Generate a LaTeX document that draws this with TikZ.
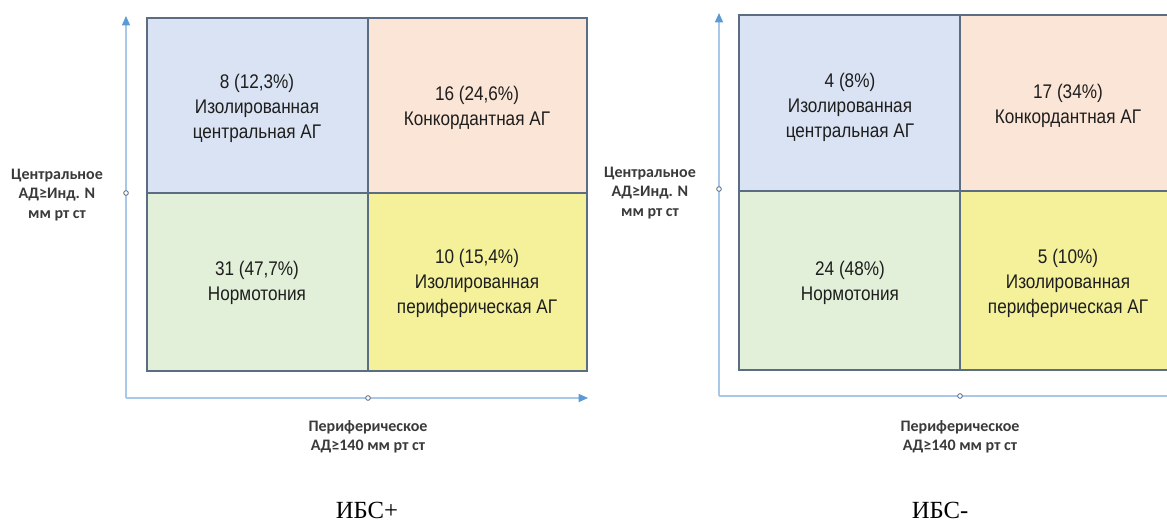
\documentclass[tikz,border=0pt]{standalone}
\usepackage{fontspec}
\setmainfont{Liberation Serif}
\newfontfamily\cellfont[FakeStretch=0.87]{Liberation Sans}
\newfontfamily\axfont{Carlito}
\usetikzlibrary{arrows.meta}
\definecolor{cblue}{HTML}{DAE3F3}
\definecolor{cpeach}{HTML}{FBE5D6}
\definecolor{cgreen}{HTML}{E2F0D9}
\definecolor{cyellow}{HTML}{F4F19A}
\definecolor{gridc}{HTML}{5A6D82}
\definecolor{axisc}{HTML}{A9C8E8}
\definecolor{arrowc}{HTML}{5B9BD5}
\definecolor{txtc}{HTML}{1E1E1E}
\definecolor{axtxt}{HTML}{3A3A3A}
\begin{document}
\begin{tikzpicture}[x=0.75pt,y=-0.75pt,
  cellbox/.style={draw=gridc,line width=1.1pt},
  celltext/.style={align=center,text=txtc,inner sep=0pt,font=\cellfont\fontsize{14.8}{18.8}\selectfont},
  axlabel/.style={align=center,text=axtxt,inner sep=0pt,font=\axfont\bfseries\fontsize{12}{14.5}\selectfont},
  caption/.style={inner sep=0pt,font=\fontsize{18.5}{22}\selectfont},
  axisline/.style={draw=axisc,line width=1pt},
  axisarrow/.style={axisline,-{Triangle[length=7pt,width=6pt,color=arrowc]}},
  axdot/.style={circle,draw=gridc,fill=white,line width=0.6pt,inner sep=0pt,minimum size=3.5pt}
]
\useasboundingbox (0,0) rectangle (1167,524);
\clip (0,0) rectangle (1167,524);
\fill[white] (0,0) rectangle (1167,524);

% ---------- Left panel ----------
\draw[cellbox,fill=cblue]   (147,18)  rectangle (368,193);
\draw[cellbox,fill=cpeach]  (368,18)  rectangle (587,193);
\draw[cellbox,fill=cgreen]  (147,193) rectangle (368,371);
\draw[cellbox,fill=cyellow] (368,193) rectangle (587,371);

\coordinate (LO) at (126,398);
\coordinate (LYend) at (126,16);
\coordinate (LXend) at (588,398);
\draw[axisarrow] (LO) -- (LYend);
\draw[axisarrow] (LO) -- (LXend);
\node[axdot] (LYd) at (126,193) {};
\node[axdot] (LXd) at (368,398) {};

\node[celltext] (LTL) at (257,108) {8 (12,3\%)\\Изолированная\\центральная АГ};
\node[celltext] (LTR) at (477,108) {16 (24,6\%)\\Конкордантная АГ};
\node[celltext] (LBL) at (257,283) {31 (47,7\%)\\Нормотония};
\node[celltext] (LBR) at (477,283) {10 (15,4\%)\\Изолированная\\периферическая АГ};

\node[axlabel] (LYlab) at (57,195) {Центральное\\АД≥Инд. N\\мм рт ст};
\node[axlabel] (LXlab) at (368,437) {Периферическое\\АД≥140 мм рт ст};
\node[caption] (Lcap) at (367,510) {ИБС+};

% ---------- Right panel ----------
\draw[cellbox,fill=cblue]   (739,15)  rectangle (960,191);
\draw[cellbox,fill=cpeach]  (960,15)  rectangle (1185,191);
\draw[cellbox,fill=cgreen]  (739,191) rectangle (960,370);
\draw[cellbox,fill=cyellow] (960,191) rectangle (1185,370);

\coordinate (RO) at (719,396);
\coordinate (RYend) at (719,13);
\coordinate (RXend) at (1185,396);
\draw[axisarrow] (RO) -- (RYend);
\draw[axisline] (RO) -- (RXend);
\node[axdot] (RYd) at (719,189) {};
\node[axdot] (RXd) at (960,396) {};

\node[celltext] (RTL) at (850,107) {4 (8\%)\\Изолированная\\центральная АГ};
\node[celltext] (RTR) at (1068,106) {17 (34\%)\\Конкордантная АГ};
\node[celltext] (RBL) at (850,283) {24 (48\%)\\Нормотония};
\node[celltext] (RBR) at (1068,283) {5 (10\%)\\Изолированная\\периферическая АГ};

\node[axlabel] (RYlab) at (650,193) {Центральное\\АД≥Инд. N\\мм рт ст};
\node[axlabel] (RXlab) at (960,437) {Периферическое\\АД≥140 мм рт ст};
\node[caption] (Rcap) at (940,510) {ИБС-};
\end{tikzpicture}
\end{document}
